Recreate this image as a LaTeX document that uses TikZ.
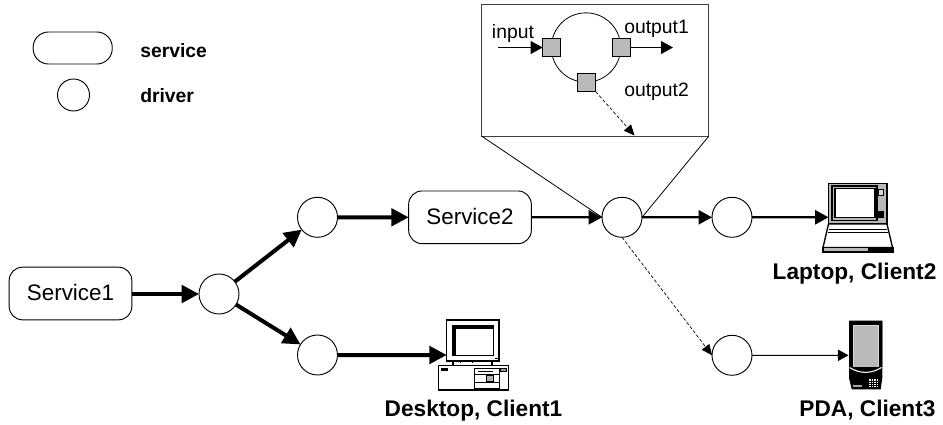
\documentclass[tikz,border=0pt]{standalone}
\usepackage{fontspec}
\setmainfont{Liberation Sans}
\usetikzlibrary{arrows.meta}
\tikzset{
  drv/.style={circle,draw,line width=0.7pt,minimum size=30pt,inner sep=0pt,outer sep=0pt,fill=white},
  legdrv/.style={drv,minimum size=24pt},
  svc/.style={rounded corners=10pt,draw,line width=0.7pt,inner sep=0pt,outer sep=0pt,fill=white,minimum width=92pt,minimum height=39.5pt,text depth=2pt,font=\fontsize{16.8}{18}\selectfont},
  legsvc/.style={rounded corners=11.5pt,draw,line width=0.7pt,inner sep=0pt,outer sep=0pt,minimum width=59.3pt,minimum height=24pt},
  port/.style={draw,line width=0.6pt,fill=black!27,minimum size=13.5pt,inner sep=0pt,outer sep=0pt},
  lbl/.style={font=\bfseries\fontsize{17}{19}\selectfont,inner sep=0pt,anchor=base},
  leglbl/.style={font=\bfseries\fontsize{14.5}{16}\selectfont,inner sep=0pt,anchor=base west},
  txt/.style={font=\fontsize{14.5}{16}\selectfont,inner sep=0pt,anchor=base west},
  thick1/.style={line width=3pt,-{Triangle[length=13pt,width=13pt]}},
  thick2/.style={line width=1.6pt,-{Triangle[length=10pt,width=10.5pt]}},
  inner1/.style={line width=1.4pt,-{Triangle[length=9pt,width=9.5pt]}},
  thin1/.style={line width=0.75pt,-{Triangle[length=8pt,width=8.5pt]}},
  dash1/.style={line width=0.5pt,dash pattern=on 2.5pt off 1.5pt,-{Triangle[length=8pt,width=7pt]}},
  fl/.style={line width=0.6pt},
}
\begin{document}
\begin{tikzpicture}[x=1pt,y=-1pt,scale=0.75]
\useasboundingbox (0,0) rectangle (943,425);
% legend
\node[legsvc] (ls) at (72.7,48) {};
\node[legdrv] (ld) at (73.5,95) {};
\node[leglbl] at (140,57.5) {service};
\node[leglbl] at (140,102.5) {driver};
% zoom box
\node[draw,black!75,line width=0.8pt,inner sep=0pt,outer sep=0pt,anchor=north west,minimum width=170.3pt,minimum height=98.6pt] (box) at (481.7,4.7) {};
% main nodes
\node[svc] (s1) at (70.5,293.5) {Service1};
\node[drv] (d0) at (219,294) {};
\node[drv] (d1) at (317.5,217.3) {};
\node[drv] (d2) at (317.5,355) {};
\node[svc] (s2) at (470,217.3) {Service2};
\node[drv] (d3) at (622,217.3) {};
\node[drv] (d4) at (732,217.3) {};
\node[drv] (d5) at (732,355.3) {};
% funnel
\draw[fl] (box.south west) -- (d3.west);
\draw[fl] (box.south east) -- (d3.east);
% inner
\node[circle,draw,line width=0.6pt,minimum size=52pt,inner sep=0pt,outer sep=0pt] (big) at (586,47.5) {};
\node[port] (pi) at (551.7,47.5) {};
\node[port] (po1) at (621.3,47.5) {};
\node[port] (po2) at (586.7,82.7) {};
\coordinate (ii) at (498,47.5);
\coordinate (oo) at (673,47.5);
\coordinate (o2) at (634.5,135.5);
\draw[inner1] (ii) -- (pi.west);
\draw[inner1] (po1.east) -- (oo);
\draw[dash1] (po2.south east) -- (o2);
\node[txt] at (491.7,38) {input};
\node[txt] at (624,33.5) {output1};
\node[txt] at (624,96.7) {output2};
% connectors
\coordinate (lap) at (828.5,217.3);
\coordinate (pc) at (446.7,355);
\coordinate (pda) at (848.5,355.3);
\draw[thick1] (s1.east |- d0) -- (d0.west);
\draw[thick1] (d0) -- (d1);
\draw[thick1] (d0) -- (d2);
\draw[thick1] (d1) -- (s2.west |- d1);
\draw[thick2] (s2) -- (d3);
\draw[thick2] (d3) -- (d4);
\draw[thick2] (d4) -- (lap);
\draw[thick1] (d2) -- (pc);
\draw[thin1] (d5) -- (pda);
\draw[dash1] (d3.south) -- (d5.west);
% laptop
\begin{scope}
\draw[line width=1pt,fill=black!28] (828.5,183.5) rectangle (887,224);
\draw[line width=.9pt,black,fill=black!28] (832,186) rectangle (877,220.5);
\draw[fill=white,line width=.8pt] (835,188.5) rectangle (875,217.5);
\draw[line width=.6pt,fill=black!15] (878.5,189) rectangle (883.5,195);
\draw[line width=.6pt,fill=black] (878.5,211) rectangle (883.5,217);
\draw[line width=1pt,fill=white] (828.5,224) -- (887,224) -- (892.5,247.5) -- (823,247.5) -- cycle;
\draw[line width=.6pt] (828.5,229) -- (887,229);
\draw[line width=.6pt] (827.5,232.5) -- (888,232.5);
\draw[line width=1pt,fill=black!28] (823,247.5) rectangle (893,252);
\fill[black] (868,247.5) rectangle (893,252);
\end{scope}
% desktop
\begin{scope}
\draw[line width=1pt,fill=white] (446.7,320) rectangle (499,361);
\fill[black] (451.7,325) rectangle (493.5,356);
\fill[white] (456,328.5) rectangle (492.5,355);
\fill[black] (495,357.5) rectangle (498,359);
\draw[line width=.8pt] (453,361) -- (453,366) (492,361) -- (492,366);
\draw[line width=.6pt] (460,361) -- (460,363) (472,361) -- (472,363);
\draw[line width=1pt,fill=white] (438.5,365.5) rectangle (508.5,390);
\fill (440.7,368.3) rectangle (447.7,371);
\draw[line width=.7pt] (474,368.3) rectangle (499,388);
\draw[line width=.7pt] (474,374) -- (499,374) (474,382) -- (499,382);
\draw[line width=1pt] (478,371.5) -- (493,371.5);
\draw[line width=.6pt,fill=black!30] (486.7,375.7) rectangle (493.3,381);
\draw[line width=.6pt,fill=black!40] (500.5,368.3) rectangle (506.5,371.7);
\end{scope}
% pda
\begin{scope}
\fill[black!25] (882,322) rectangle (883.3,367);
\fill[black] (849,320.7) -- (882.3,320.7) -- (882.3,378) -- (880.7,389.3) -- (851.7,389.3) -- (849,378) -- cycle;
\fill[white!85!black] (852.7,325) rectangle (879,366.7);
\fill[black!27] (853.5,326) rectangle (878.3,366.7);
\draw[white,line width=.8pt] (849.5,367.5) .. controls (860,374) and (871,374) .. (881.5,367.5);
\fill[black!35] (853.3,385) rectangle (862.3,387.3);
\fill[white] (869,379) rectangle (878.3,386.7);
\draw[black,line width=.4pt] (871.3,379) -- (871.3,386.7) (873.6,379) -- (873.6,386.7) (876,379) -- (876,386.7) (869,381) -- (878.3,381) (869,383) -- (878.3,383) (869,385) -- (878.3,385);
\end{scope}
% labels
\node[lbl] at (473.5,416.5) {Desktop, Client1};
\node[lbl] at (854.5,279) {Laptop, Client2};
\node[lbl] at (867.5,416.5) {PDA, Client3};
\end{tikzpicture}
\end{document}
